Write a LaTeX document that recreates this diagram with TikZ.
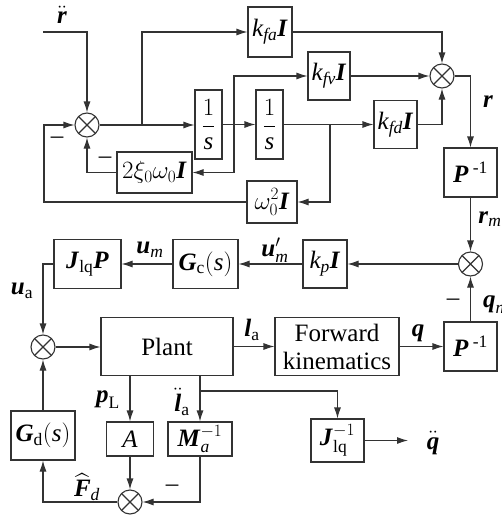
\documentclass[tikz,border=0pt]{standalone}
\usepackage{amsmath}
\usepackage{fontspec}
\setmainfont{Liberation Serif}
\usetikzlibrary{arrows.meta}
\newcommand{\bv}[1]{\textbf{\textit{#1}}}
\definecolor{lc}{HTML}{333333}
\begin{document}
\begin{tikzpicture}[x=1pt,y=-1pt,
  every node/.style={font=\fontsize{25}{30}\selectfont},
  blk/.style={draw=lc, line width=1.1pt, rectangle, inner sep=0pt, align=center},
  sumn/.style={draw=lc, line width=1.1pt, circle, minimum size=24pt, inner sep=0pt,
    path picture={\draw[lc, line width=1.1pt]
      (path picture bounding box.north west) -- (path picture bounding box.south east)
      (path picture bounding box.north east) -- (path picture bounding box.south west);}},
  arr/.style={draw=lc, line width=1.1pt, -{Latex[length=11pt,width=7pt]}},
  ln/.style={draw=lc, line width=1.1pt},
  lbl/.style={inner sep=0pt}
]
\useasboundingbox (0,0) rectangle (502,517);

% blocks
\node[sumn] (s1) at (87,125) {};
\node[blk, minimum width=27pt, minimum height=69pt] (i1) at (208.5,124.5) {$\dfrac{1}{\mathit{s}}$};
\node[blk, minimum width=27pt, minimum height=69pt] (i2) at (269.5,124.5) {$\dfrac{1}{\mathit{s}}$};
\node[blk, minimum width=44pt, minimum height=50pt] (kfa) at (270,32) {$\mathit{k}_{\mathit{fa}}\bv{I}$};
\node[blk, minimum width=42pt, minimum height=48pt] (kfv) at (329,76) {$\mathit{k}_{\mathit{fv}}\bv{I}$};
\node[blk, minimum width=43pt, minimum height=48pt] (kfd) at (395.5,124.5) {$\mathit{k}_{\mathit{fd}}\bv{I}$};
\node[sumn] (s2) at (442,76) {};
\node[blk, minimum width=75pt, minimum height=41pt] (xi) at (154.5,172.5) {$2\xi_0\omega_0\bv{I}$};
\node[blk, minimum width=50pt, minimum height=42pt] (om) at (272,202) {$\omega_0^2\bv{I}$};
\node[blk, minimum width=53pt, minimum height=49pt] (P1) at (470.5,172.5) {\bv{P}\,\textsuperscript{-1}};
\node[sumn] (s3) at (470.5,264) {};
\node[blk, minimum width=44pt, minimum height=48pt] (kp) at (325,264) {$\mathit{k}_{\mathit{p}}\bv{I}$};
\node[blk, minimum width=65pt, minimum height=49pt] (Gc) at (205.5,264) {$\bv{G}_{\mathrm{c}}(\mathit{s})$};
\node[blk, minimum width=67pt, minimum height=49pt] (JP) at (87.5,264) {$\bv{J}_{\mathrm{lq}}\bv{P}$};
\node[sumn] (s4) at (43,347) {};
\node[blk, minimum width=132pt, minimum height=58pt] (plant) at (167,346.5) {Plant};
\node[blk, minimum width=124pt, minimum height=58pt] (fk) at (337,346.5) {Forward\\[-2pt]kinematics};
\node[blk, minimum width=53pt, minimum height=49pt] (P2) at (470.5,346.5) {\bv{P}\,\textsuperscript{-1}};
\node[blk, minimum width=47pt, minimum height=34pt] (A) at (130,439) {$\mathit{A}$};
\node[blk, minimum width=64pt, minimum height=34pt] (M) at (200,439) {$\bv{M}_{\mathit{a}}^{-1}$};
\node[blk, minimum width=53pt, minimum height=43pt] (Jinv) at (337.5,440.5) {$\bv{J}_{\mathrm{lq}}^{-1}$};
\node[blk, minimum width=64pt, minimum height=49pt] (Gd) at (43,435.5) {$\bv{G}_{\mathrm{d}}(\mathit{s})$};
\node[sumn] (s5) at (130,502) {};

% coordinates
\coordinate (in) at (43,32);
\coordinate (b1) at (142,125);
\coordinate (b2) at (234,124.5);
\coordinate (b3) at (330,124.5);
\coordinate (fbL) at (44,202);
\coordinate (b4) at (200,391);
\coordinate (qout) at (408,440.5);

% connectors
\draw[arr] (in) -| (s1.north);
\draw[arr] (s1.east) -- (s1.east -| i1.west);
\draw[arr] (b1) |- (kfa.west);
\draw[arr] (i1) -- (i2);
\draw[arr] (b2) |- (kfv.west);
\draw[arr] (b2) |- (xi.east);
\draw[arr] (xi.west) -| (s1.south);
\draw[arr] (i2) -- (kfd);
\draw[arr] (b3) |- (om.east);
\draw[arr] (om.west) -- (fbL) |- (s1.west);
\draw[arr] (kfa.east) -| (s2.north);
\draw[arr] (kfv) -- (s2);
\draw[arr] (kfd.east) -| (s2.south);
\draw[arr] (s2.east) -| (P1.north);
\draw[arr] (P1.south) -- (s3.north);
\draw[arr] (s3) -- (kp);
\draw[arr] (kp) -- (Gc);
\draw[arr] (Gc) -- (JP);
\draw[arr] (JP.west) -| (s4.north);
\draw[arr] (s4) -- (s4 -| plant.west);
\draw[arr] (plant) -- (fk);
\draw[arr] (fk) -- (P2);
\draw[arr] (P2.north) -- (s3.south);
\draw[arr] (plant.south -| A) -- (A.north);
\draw[arr] (plant.south -| M) -- (M.north);
\draw[arr] (b4) -| (Jinv.north);
\draw[arr] (Jinv.east) -- (qout);
\draw[arr] (A.south) -- (s5.north);
\draw[arr] (M.south) |- (s5.east);
\draw[arr] (s5.west) -| (Gd.south);
\draw[arr] (Gd.north) -- (s4.south);

% labels
\node[lbl] at (62,15) {$\ddot{\bv{r}}$};
\node[lbl] at (488,102) {\bv{r}};
\node[lbl] at (490,219) {$\bv{r}_{\mathit{m}}$};
\node[lbl] at (275,250) {$\bv{u}'_{\mathit{m}}$};
\node[lbl] at (150,250) {$\bv{u}_{\mathit{m}}$};
\node[lbl] at (22,291) {$\bv{u}_{\mathrm{a}}$};
\node[lbl] at (252,330) {$\bv{l}_{\mathrm{a}}$};
\node[lbl] at (418,333) {\bv{q}};
\node[lbl] at (494,305) {$\bv{q}_{\mathit{n}}$};
\node[lbl] at (453,302) {\textendash};
\node[lbl] at (57,140) {\textendash};
\node[lbl] at (105,160) {\textendash};
\node[lbl] at (172,488) {\textendash};
\node[lbl] at (108,400) {$\bv{p}_{\mathrm{L}}$};
\node[lbl] at (182,402) {$\ddot{\bv{l}}_{\mathrm{a}}$};
\node[lbl] at (87,487) {$\widehat{\bv{F}}_{\mathit{d}}$};
\node[lbl] at (433,443) {$\ddot{\bv{q}}$};
\end{tikzpicture}
\end{document}
